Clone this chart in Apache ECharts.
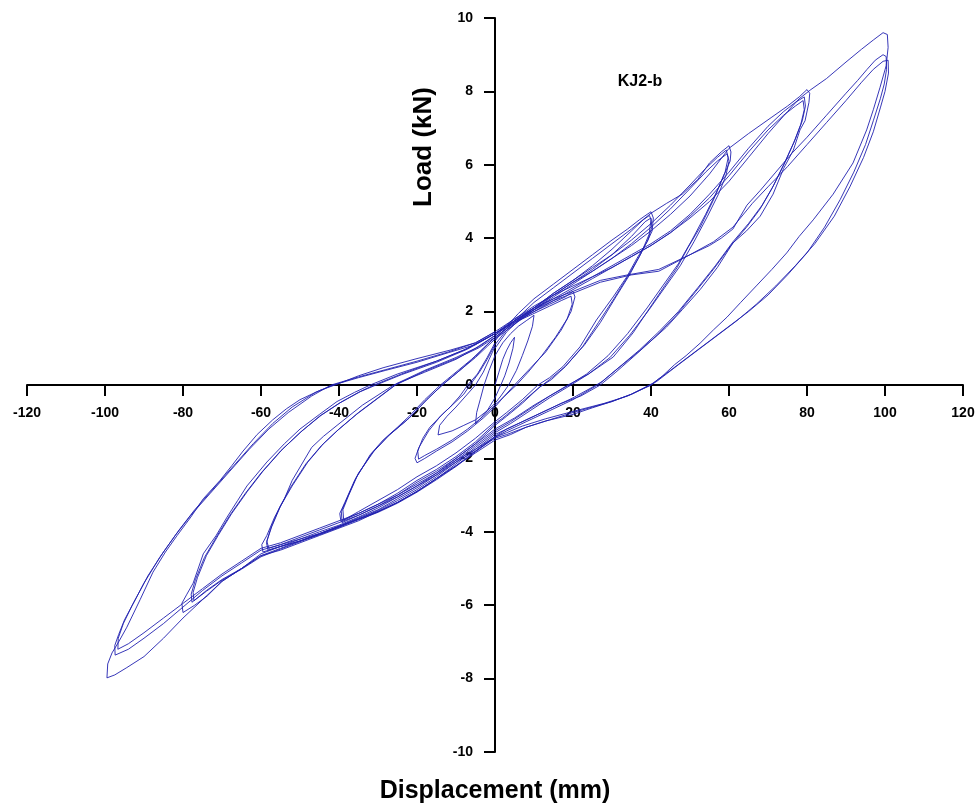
<!DOCTYPE html>
<html>
<head>
<meta charset="utf-8">
<script src="https://cdn.jsdelivr.net/npm/echarts@6/dist/echarts.min.js"></script>
<style>
html,body{margin:0;padding:0;background:#fff;}
#chart{width:980px;height:807px;}
</style>
</head>
<body>
<div id="chart"></div>
<script>
// Axis ticks
const xTicks = [-120,-100,-80,-60,-40,-20,0,20,40,60,80,100,120];
const yTicks = [-10,-8,-6,-4,-2,0,2,4,6,8,10];
const specimenLabel = 'KJ2-b';
const xTitle = 'Displacement (mm)';
const yTitle = 'Load (kN)';

// Hysteresis cycles: [displacement (mm), load (kN)]
const cycle05 = [[0,0],[1,0.35],[2,0.7],[3,0.95],[4,1.15],[5,1.3],[4.6,1.0],[3.6,0.6],[2.5,0.25],[1.5,0],[0,-0.35],[-2,-0.7],[-4,-0.95],[-5,-1.05],[-4.7,-0.75],[-3.8,-0.4],[-2.8,0],[-1.5,0.4],[0,0.8]];
const cycle10 = [[0,0.8],[2,1.15],[4,1.4],[6,1.6],[8,1.75],[10,1.9],[9.6,1.6],[8.4,1.2],[7,0.8],[5.5,0.4],[3.5,0],[1.5,-0.3],[0,-0.5],[-2,-0.7],[-5,-0.95],[-8,-1.1],[-11,-1.25],[-14.6,-1.36],[-14.2,-1.1],[-12.3,-0.85],[-10,-0.6],[-7.5,-0.3],[-5,0],[-3,0.35],[-1.5,0.7],[0,1.05]];
const cycle20a = [[0,1.0],[3,1.45],[6,1.75],[10,2.0],[14,2.2],[18,2.4],[20,2.55],[20.5,2.4],[19.5,2.0],[17,1.5],[13,0.9],[9,0.45],[5,0],[2,-0.35],[0,-0.6],[-3,-0.9],[-7,-1.25],[-11,-1.55],[-15,-1.8],[-18,-2.0],[-20,-2.12],[-20.5,-2.0],[-19.5,-1.7],[-17,-1.25],[-14,-0.85],[-11,-0.55],[-8,-0.25],[-6.4,0],[-4,0.35],[-2,0.7],[0,1.1]];
const cycle20b = [[0,1.1],[3,1.5],[6,1.75],[10,1.95],[14,2.15],[17,2.3],[19.5,2.42],[19.8,2.2],[18.5,1.8],[15.5,1.3],[12,0.8],[8.5,0.35],[5.5,0],[2.5,-0.3],[0,-0.55],[-3,-0.85],[-7,-1.2],[-11,-1.5],[-15,-1.75],[-18,-1.92],[-19.6,-2.02],[-19.8,-1.8],[-18.5,-1.45],[-16.7,-1.15],[-13.5,-0.8],[-11.5,-0.6],[-9,-0.3],[-7,0],[-4.5,0.3],[-2,0.75],[0,1.15]];
const cycle40a = [[0,1.2],[3,1.6],[6,1.95],[10,2.35],[15,2.75],[20,3.15],[25,3.55],[30,3.95],[34,4.25],[37,4.5],[39,4.65],[40,4.72],[40.6,4.55],[40.3,4.2],[39,3.9],[36.4,3.45],[33.8,2.95],[30.3,2.4],[26,1.77],[21.8,1.04],[17.4,0.5],[14,0.2],[11,0],[7,-0.4],[3,-0.75],[0,-1.0],[-5,-1.45],[-10,-1.85],[-15,-2.2],[-20,-2.5],[-25,-2.85],[-30,-3.15],[-35,-3.45],[-39.5,-3.72],[-39.8,-3.5],[-38.5,-3.2],[-36,-2.6],[-32,-1.9],[-28.7,-1.5],[-25,-1.15],[-22,-0.85],[-18,-0.4],[-14,0],[-10,0.35],[-6,0.7],[-3,1.0],[0,1.3]];
const cycle40b = [[0,1.3],[5,1.7],[10,2.1],[15,2.5],[20,2.85],[25,3.25],[30,3.7],[35,4.2],[38,4.5],[39.6,4.62],[40,4.5],[39.5,4.1],[37.5,3.6],[34.5,3.0],[31,2.4],[27,1.7],[23,1.1],[18,0.5],[14,0.15],[11,-0.1],[6,-0.55],[2,-0.9],[0,-1.05],[-5,-1.55],[-10,-1.95],[-15,-2.3],[-20,-2.6],[-25,-2.95],[-30,-3.25],[-35,-3.5],[-38.8,-3.68],[-39,-3.4],[-37.5,-3.0],[-35,-2.4],[-31,-1.8],[-27,-1.35],[-22,-0.9],[-17,-0.35],[-13,0.05],[-9,0.4],[-5,0.75],[-2,1.05],[0,1.25]];
const cycle40c = [[0,1.25],[5,1.65],[10,2.05],[15,2.45],[20,2.8],[25,3.15],[30,3.55],[35,4.05],[38.5,4.45],[40,4.55],[40.2,4.3],[39.2,3.95],[37,3.5],[34,2.95],[30.5,2.35],[26.5,1.7],[22.5,1.05],[18,0.5],[14.5,0.15],[11.5,-0.05],[7,-0.5],[3,-0.85],[0,-1.1],[-5,-1.6],[-10,-2.0],[-15,-2.35],[-20,-2.65],[-25,-3.0],[-30,-3.3],[-35,-3.55],[-39.2,-3.75],[-39.4,-3.45],[-38,-3.1],[-35.5,-2.5],[-31.5,-1.85],[-27.5,-1.4],[-22.5,-0.95],[-17.5,-0.4],[-13.5,0],[-9,0.4],[-5,0.78],[-2,1.1],[0,1.3]];
const cycle60a = [[0,1.25],[5,1.75],[10,2.25],[15,2.65],[20,3.05],[25,3.45],[30,3.85],[35,4.25],[40,4.68],[44,4.95],[48,5.2],[52,5.6],[55,6.05],[58,6.35],[60,6.52],[60.5,6.35],[60.3,6.1],[58.5,5.67],[56,5.04],[52.6,4.3],[49.5,3.75],[46.7,3.2],[43.5,2.7],[40.5,2.23],[35.4,1.42],[30.3,0.76],[24,0.3],[18.7,0],[14,-0.3],[10,-0.55],[5,-0.9],[0,-1.2],[-5,-1.6],[-10,-2.0],[-15,-2.4],[-20,-2.75],[-25,-3.05],[-30,-3.35],[-35,-3.6],[-40,-3.82],[-45,-4.0],[-50,-4.2],[-55,-4.4],[-59.5,-4.55],[-59.8,-4.35],[-58.5,-4.1],[-56.5,-3.6],[-54,-3.1],[-52,-2.6],[-47,-1.7],[-44,-1.4],[-40.5,-1.1],[-34,-0.55],[-26,0],[-18,0.35],[-10,0.7],[-5,1.0],[0,1.35]];
const cycle60b = [[0,1.35],[5,1.75],[10,2.1],[15,2.5],[20,2.85],[25,3.2],[30,3.55],[35,3.95],[40,4.4],[45,4.9],[50,5.45],[54,5.9],[57,6.2],[59.3,6.4],[59.8,6.2],[59,5.8],[57,5.3],[54,4.65],[50.5,3.95],[47,3.3],[43,2.7],[39,2.1],[34,1.4],[29,0.8],[23.5,0.3],[19,0],[14,-0.3],[9,-0.65],[4,-1.0],[0,-1.25],[-5,-1.65],[-10,-2.05],[-15,-2.45],[-20,-2.8],[-25,-3.1],[-30,-3.4],[-35,-3.62],[-40,-3.85],[-45,-4.05],[-50,-4.2],[-55,-4.35],[-58,-4.45],[-58.5,-4.25],[-57.2,-3.85],[-55,-3.3],[-52,-2.75],[-48,-2.1],[-44,-1.6],[-40,-1.2],[-35,-0.75],[-30,-0.35],[-25,0.05],[-18,0.4],[-10,0.75],[-4,1.05],[0,1.35]];
const cycle60c = [[0,1.3],[5,1.7],[10,2.05],[15,2.4],[20,2.75],[25,3.1],[30,3.45],[35,3.85],[40,4.3],[45,4.8],[50,5.35],[54,5.8],[57,6.1],[59.5,6.3],[60,6.1],[59.2,5.7],[57.3,5.2],[54.5,4.6],[51,3.9],[47.5,3.25],[43.5,2.65],[39.5,2.05],[34.5,1.35],[29.5,0.75],[24,0.3],[19.5,0],[14,-0.35],[9,-0.7],[4,-1.05],[0,-1.3],[-5,-1.7],[-10,-2.1],[-15,-2.5],[-20,-2.85],[-25,-3.15],[-30,-3.42],[-35,-3.65],[-40,-3.88],[-45,-4.08],[-50,-4.25],[-55,-4.4],[-58.2,-4.5],[-58.6,-4.3],[-57.5,-3.9],[-55.3,-3.35],[-52.5,-2.8],[-48.5,-2.15],[-44.5,-1.65],[-40.5,-1.25],[-35.5,-0.8],[-30.5,-0.4],[-25.5,0],[-18,0.38],[-10,0.72],[-4,1.02],[0,1.3]];
const cycle80a = [[0,1.35],[5,1.75],[10,2.1],[15,2.45],[20,2.8],[25,3.1],[30,3.45],[35,3.8],[40,4.2],[45,4.65],[50,5.15],[55,5.75],[60,6.45],[65,6.85],[71,7.3],[75,7.6],[78,7.85],[80,8.05],[80.7,7.95],[80.5,7.7],[79.5,7.2],[78.2,6.95],[76.5,6.4],[74,5.9],[71.3,5.2],[68,4.6],[64.5,4.2],[61,3.87],[57,3.2],[52.6,2.6],[48,2.05],[44,1.58],[40,1.2],[35.4,0.76],[31,0.35],[27,0],[22,-0.3],[17,-0.5],[12,-0.75],[6,-1.05],[0,-1.35],[-5,-1.75],[-10,-2.15],[-15,-2.55],[-20,-2.9],[-25,-3.2],[-30,-3.45],[-35,-3.65],[-40,-3.85],[-45,-4.05],[-50,-4.25],[-55,-4.4],[-60,-4.6],[-65,-5.0],[-70,-5.35],[-73.8,-5.75],[-77,-6.0],[-80,-6.2],[-80.3,-5.95],[-79,-5.7],[-77.4,-5.4],[-74.8,-4.6],[-71.5,-4.1],[-68.7,-3.6],[-66,-3.15],[-63.6,-2.75],[-58.5,-2.1],[-54,-1.6],[-50,-1.2],[-45,-0.8],[-40.5,-0.45],[-36,-0.2],[-32,0],[-25,0.3],[-15,0.65],[-8,0.95],[0,1.4]];
const cycle80b = [[0,1.4],[5,1.75],[10,2.05],[15,2.35],[20,2.65],[25,2.95],[30,3.25],[35,3.55],[40,3.85],[45,4.2],[50,4.65],[55,5.2],[60,5.8],[65,6.45],[70,7.05],[74,7.45],[77,7.7],[79.3,7.85],[79.6,7.6],[78.8,7.2],[77,6.7],[74.5,6.1],[71.5,5.45],[68.5,4.9],[65,4.4],[61,3.9],[56.5,3.25],[52,2.65],[47,2.0],[42,1.45],[37,0.95],[32,0.5],[27.5,0.1],[26,0],[20,-0.35],[14,-0.65],[8,-0.95],[3,-1.2],[0,-1.4],[-5,-1.8],[-10,-2.2],[-15,-2.55],[-20,-2.9],[-25,-3.2],[-30,-3.45],[-35,-3.65],[-40,-3.85],[-45,-4.05],[-50,-4.25],[-55,-4.45],[-60,-4.65],[-65,-5.0],[-70,-5.3],[-74,-5.6],[-77.7,-5.92],[-77.9,-5.7],[-76.8,-5.3],[-74.5,-4.7],[-71.5,-4.15],[-68,-3.55],[-64,-2.95],[-60,-2.4],[-55,-1.8],[-50,-1.3],[-45,-0.85],[-40,-0.5],[-35,-0.2],[-31,0],[-24,0.3],[-15,0.65],[-7,1.0],[0,1.4]];
const cycle80c = [[0,1.4],[5,1.72],[10,2.0],[15,2.3],[20,2.6],[25,2.9],[30,3.2],[35,3.5],[40,3.8],[45,4.15],[50,4.6],[55,5.1],[60,5.7],[65,6.35],[70,6.95],[74,7.35],[77,7.6],[79,7.75],[79.3,7.5],[78.4,7.1],[76.6,6.6],[74,6.0],[71,5.35],[68,4.8],[64.5,4.3],[60.5,3.8],[56,3.15],[51.5,2.55],[46.5,1.9],[41.5,1.35],[36.5,0.88],[31.5,0.45],[27,0.05],[25.5,-0.05],[20,-0.4],[14,-0.7],[8,-1.0],[3,-1.25],[0,-1.42],[-5,-1.82],[-10,-2.22],[-15,-2.58],[-20,-2.92],[-25,-3.22],[-30,-3.47],[-35,-3.67],[-40,-3.87],[-45,-4.07],[-50,-4.27],[-55,-4.47],[-60,-4.68],[-65,-5.02],[-70,-5.32],[-74,-5.62],[-77.2,-5.88],[-77.4,-5.65],[-76.3,-5.25],[-74,-4.65],[-71,-4.1],[-67.5,-3.5],[-63.5,-2.9],[-59.5,-2.35],[-54.5,-1.75],[-49.5,-1.25],[-44.5,-0.82],[-39.5,-0.47],[-34.5,-0.18],[-30.5,0],[-24,0.28],[-15,0.62],[-7,0.98],[0,1.4]];
const cycle100a = [[0,1.4],[5,1.8],[10,2.15],[15,2.45],[20,2.7],[25,2.95],[30,3.2],[35,3.5],[40,3.8],[45,4.15],[50,4.55],[55,5.0],[60,5.55],[65,6.2],[70,6.85],[75,7.45],[78,7.8],[81,8.05],[85,8.35],[90,8.8],[94,9.15],[97,9.4],[99.5,9.6],[100.6,9.55],[100.8,9.2],[100.3,8.7],[98.7,8.1],[97,7.5],[95.3,6.95],[91.8,6.05],[86.7,5.2],[81.6,4.5],[78,4.05],[74.8,3.6],[71,3.15],[67,2.7],[63,2.25],[59.5,1.85],[56,1.5],[52.6,1.14],[49,0.8],[46,0.55],[43,0.25],[40,0],[35,-0.25],[30,-0.45],[25,-0.62],[20,-0.8],[13,-0.98],[8,-1.15],[4,-1.35],[0,-1.5],[-5,-1.85],[-10,-2.2],[-15,-2.55],[-20,-2.9],[-25,-3.2],[-30,-3.45],[-35,-3.7],[-40,-3.9],[-45,-4.1],[-50,-4.3],[-55,-4.5],[-60,-4.65],[-65,-5.0],[-70,-5.35],[-75,-5.85],[-80,-6.35],[-85,-6.9],[-90,-7.4],[-94.4,-7.7],[-97.5,-7.9],[-99.5,-7.98],[-99.3,-7.6],[-98.2,-7.3],[-96.5,-7.0],[-94.4,-6.6],[-91,-5.85],[-87.7,-5.1],[-84.5,-4.55],[-81.5,-4.1],[-78,-3.6],[-74.8,-3.1],[-70.5,-2.6],[-67.5,-2.2],[-64.6,-1.8],[-61,-1.35],[-57,-0.95],[-53.5,-0.65],[-50,-0.4],[-45,-0.15],[-40.5,0.02],[-35,0.25],[-28.7,0.47],[-20,0.72],[-11.5,0.95],[-5,1.15],[0,1.45]];
const cycle100b = [[0,1.45],[5,1.8],[10,2.1],[15,2.35],[20,2.55],[27,2.85],[34,3.0],[42,3.15],[48,3.45],[55,3.8],[58,4.0],[61,4.25],[64.6,4.9],[68,5.3],[72,5.8],[76,6.3],[80,6.75],[85,7.35],[90,7.95],[93,8.3],[95.4,8.6],[97.5,8.85],[99.5,9.0],[100.3,8.95],[100.4,8.6],[99.8,8.2],[98.8,7.8],[97,7.2],[95,6.55],[92,5.8],[88.5,5.05],[84.5,4.3],[80,3.6],[75,3.0],[70,2.45],[65,2.0],[60,1.6],[55,1.2],[50,0.8],[45,0.4],[40.5,0.05],[35,-0.25],[30,-0.45],[25,-0.6],[20,-0.75],[14,-0.95],[8,-1.15],[3,-1.35],[0,-1.45],[-5,-1.8],[-10,-2.1],[-15,-2.45],[-20,-2.75],[-25,-3.05],[-30,-3.3],[-35,-3.55],[-40,-3.75],[-45,-3.95],[-50,-4.15],[-55,-4.35],[-60,-4.5],[-65,-4.85],[-70,-5.2],[-75,-5.6],[-80,-6.05],[-85,-6.5],[-90,-6.9],[-94,-7.2],[-97.4,-7.36],[-97.5,-7.1],[-96.5,-6.8],[-95,-6.4],[-92,-5.8],[-89,-5.2],[-85,-4.55],[-81,-3.95],[-77,-3.4],[-72,-2.8],[-67,-2.2],[-62,-1.6],[-57,-1.05],[-52,-0.6],[-46,-0.2],[-41.5,0],[-35,0.2],[-28,0.4],[-20,0.62],[-12,0.88],[-5,1.1],[0,1.4]];
const cycle100c = [[0,1.4],[5,1.75],[10,2.05],[15,2.3],[20,2.5],[27,2.8],[35,3.0],[42,3.1],[50,3.55],[56,3.9],[61,4.3],[66,4.95],[70,5.4],[75,5.95],[80,6.55],[85,7.15],[90,7.75],[94,8.25],[97,8.6],[99.5,8.82],[100.8,8.85],[100.9,8.5],[100,8.0],[98.8,7.55],[97,6.9],[94.5,6.2],[91,5.4],[87,4.6],[82,3.85],[77,3.25],[72,2.7],[67,2.2],[62,1.75],[57,1.35],[52,0.95],[47,0.55],[41.5,0.1],[40,0],[34,-0.3],[28,-0.5],[20,-0.72],[13,-0.92],[7,-1.12],[3,-1.3],[0,-1.42],[-5,-1.75],[-10,-2.05],[-15,-2.4],[-20,-2.7],[-25,-3.0],[-30,-3.25],[-35,-3.5],[-40,-3.7],[-45,-3.9],[-50,-4.1],[-55,-4.3],[-60,-4.45],[-65,-4.8],[-70,-5.15],[-75,-5.55],[-80,-5.95],[-85,-6.35],[-90,-6.75],[-94,-7.05],[-96.7,-7.2],[-96.6,-6.9],[-95.3,-6.5],[-93,-6.0],[-90,-5.4],[-86,-4.7],[-82,-4.1],[-78,-3.55],[-73,-2.95],[-68,-2.35],[-63,-1.75],[-58,-1.2],[-53,-0.75],[-47,-0.3],[-42,0],[-35,0.22],[-28,0.42],[-20,0.65],[-12,0.9],[-5,1.15],[0,1.45]];

const cycles = [cycle05, cycle10, cycle20a, cycle20b, cycle40a, cycle40b, cycle40c, cycle60a, cycle60b, cycle60c, cycle80a, cycle80b, cycle80c, cycle100a, cycle100b, cycle100c];

const chart = echarts.init(document.getElementById('chart'), null, {renderer: 'canvas'});
const font = '"Liberation Sans", Arial, Helvetica, sans-serif';
const GRID = {left: 27, right: 17, top: 18, bottom: 55};
const plotW = 980 - GRID.left - GRID.right;
const plotH = 807 - GRID.top - GRID.bottom;

function axisBase() {
  return {
    type: 'value',
    axisLine: {onZero: false, lineStyle: {color: '#000', width: 2}},
    axisTick: {show: true, inside: false, length: 11, lineStyle: {color: '#000', width: 2}},
    splitLine: {show: false},
    axisLabel: {color: '#000', fontWeight: 'bold', fontSize: 14, fontFamily: font, showMinLabel: true, showMaxLabel: true}
  };
}
const xAxis = axisBase();
Object.assign(xAxis, {
  position: 'bottom',
  min: xTicks[0], max: xTicks[xTicks.length - 1], interval: xTicks[1] - xTicks[0],
  // place the axis at load = 0 (middle of the symmetric range)
  offset: -plotH * (0 - yTicks[0]) / (yTicks[yTicks.length - 1] - yTicks[0])
});
xAxis.axisLabel.margin = 21;
const yAxis = axisBase();
Object.assign(yAxis, {
  position: 'left',
  min: yTicks[0], max: yTicks[yTicks.length - 1], interval: yTicks[1] - yTicks[0],
  // place the axis at displacement = 0
  offset: -plotW * (0 - xTicks[0]) / (xTicks[xTicks.length - 1] - xTicks[0])
});
yAxis.axisLabel.margin = 22;

chart.setOption({
  animation: false,
  backgroundColor: '#fff',
  grid: Object.assign({containLabel: false, outerBoundsMode: 'none'}, GRID),
  xAxis: xAxis,
  yAxis: yAxis,
  graphic: [
    {type: 'text', x: 640, y: 82, style: {text: specimenLabel, fill: '#000', font: 'bold 16px ' + font, align: 'center', verticalAlign: 'middle'}},
    {type: 'text', x: 424, y: 147, rotation: Math.PI / 2, style: {text: yTitle, fill: '#000', font: 'bold 26px ' + font, align: 'center', verticalAlign: 'middle'}},
    {type: 'text', x: 495, y: 791, style: {text: xTitle, fill: '#000', font: 'bold 25px ' + font, align: 'center', verticalAlign: 'middle'}}
  ],
  series: cycles.map(c => ({
    type: 'line', data: c, showSymbol: false, smooth: false, silent: true,
    lineStyle: {color: '#2020b0', width: 0.9}
  }))
});
</script>
</body>
</html>
